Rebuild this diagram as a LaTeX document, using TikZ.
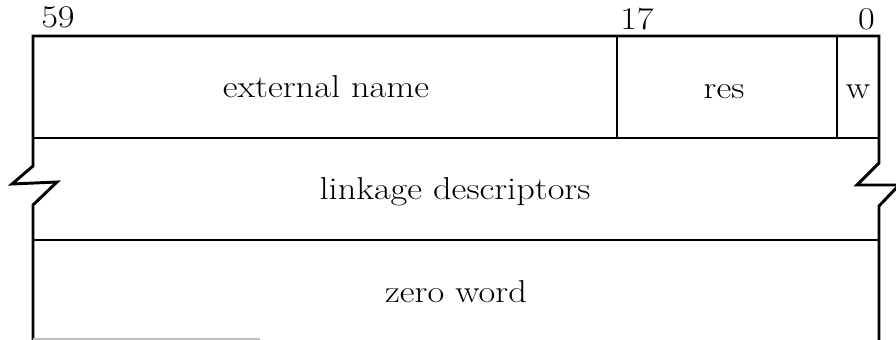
\documentclass[tikz,border=0pt]{standalone}
\usepackage{fontspec}
\setmainfont{Latin Modern Roman}
\usepackage{tikz}

\tikzset{
  fld/.style={font=\fontsize{27}{31}\selectfont, xscale=1.15, inner sep=0pt},
  rule/.style={line width=2.5pt, line join=miter}
}

\begin{document}
\begin{tikzpicture}[x=0.03cm,y=-0.03cm]
\useasboundingbox (0,0) rectangle (896,340);

\draw[rule] (33,340) -- (33,205) -- (57,182) -- (12,184) -- (33,166) -- (33,36) -- (879,36) -- (879,163) -- (857,185) -- (900,185);
\draw[rule] (900,184) -- (879,206) -- (879,340);
\draw[rule] (33,138) -- (879,138);
\draw[rule] (33,240) -- (879,240);
\draw[rule] (617,36) -- (617,138);
\draw[rule] (837,36) -- (837,138);
\draw[gray!50,line width=1pt] (33,339) -- (260,339);

\node[fld,anchor=base west] (b59) at (41,28) {59};
\node[fld,anchor=base west] (b17) at (620,30) {17};
\node[fld,anchor=base east] (b0) at (875,30) {0};

\node[fld,anchor=base] (extname) at (326,97) {external name};
\node[fld,anchor=base] (res) at (724,98) {res};
\node[fld,anchor=base] (wbit) at (858,98) {w};
\node[fld,anchor=base] (linkage) at (455,199) {linkage descriptors};
\node[fld,anchor=base] (zero) at (456,302) {zero word};
\end{tikzpicture}
\end{document}
